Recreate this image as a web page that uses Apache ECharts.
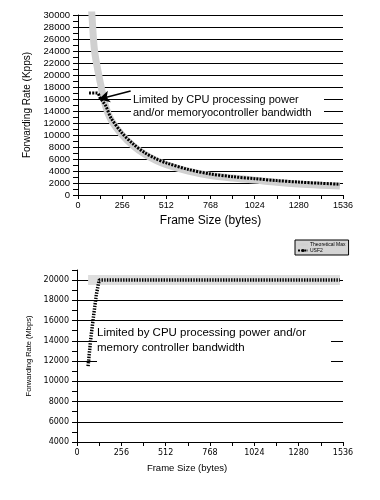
<!DOCTYPE html>
<html>
<head>
<meta charset="utf-8">
<script src="https://cdn.jsdelivr.net/npm/echarts@6/dist/echarts.min.js"></script>
<style>
html,body{margin:0;padding:0;background:#fff;}
#chart{width:380px;height:500px;}
</style>
</head>
<body>
<div id="chart"></div>
<script>
// ---- Data ----
const xTitle = 'Frame Size (bytes)';
const topYTitle = 'Forwarding Rate (Kpps)';
const bottomYTitle = 'Forwarding Rate (Mbps)';
const seriesNames = ['Theoretical Max', 'USF2'];
const topNote = 'Limited by CPU processing power\nand/or memoryocontroller bandwidth';
const bottomNote = 'Limited by CPU processing power and/or\nmemory controller bandwidth';

// Top chart: packets per second (Kpps)
const topTheoSizes = [64, 80, 96, 128, 160, 192, 256, 320, 384, 448, 512, 640, 768, 896, 1024, 1152, 1280, 1408, 1518];
const topTheoKpps  = [36000, 30300, 24000, 18900, 14800, 12500, 10000, 8200, 6850, 5800, 5050, 3980, 3250, 2820, 2480, 2120, 1840, 1640, 1500];
const topUsfSizes  = [64, 112, 128, 160, 192, 256, 320, 384, 448, 512, 640, 768, 896, 1024, 1152, 1280, 1408, 1518];
const topUsfKpps   = [17000, 17000, 16200, 14900, 12800, 10300, 8500, 7100, 6100, 5350, 4250, 3500, 3050, 2720, 2400, 2150, 1950, 1800];

// Bottom chart: throughput (Mbps)
const botTheoSizes = [64, 128, 256, 512, 768, 1024, 1280, 1518];
const botTheoMbps  = [20000, 20000, 20000, 20000, 20000, 20000, 20000, 20000];
const botUsfSizes  = [64, 80, 96, 112, 128, 256, 512, 768, 1024, 1280, 1518];
const botUsfMbps   = [11500, 14300, 16500, 18600, 20000, 20000, 20000, 20000, 20000, 20000, 20000];

// Annotation arrow (data coordinates on top chart)
const arrowFrom = [305, 17333];
const arrowTo   = [120, 15950];

const zip = (a, b) => a.map((v, i) => [v, b[i]]);
const FONT = 'Liberation Sans';

function xAxisCfg(grid, labelSize, labelFont, nameSize, nameGap, namePad) {
  return {
    type: 'value', gridIndex: grid, min: 0, max: 1536, interval: 128,
    axisLine: { show: true, onZero: false, lineStyle: { color: '#000', width: 1 } },
    axisTick: { show: true, length: 4, lineStyle: { color: '#000' } },
    axisLabel: { formatter: v => (v % 256 === 0 ? String(v) : ''), fontSize: labelSize, fontFamily: labelFont, color: '#000', margin: grid === 0 ? 6 : 7 },
    splitLine: { show: false },
    name: xTitle, nameLocation: 'middle', nameGap: nameGap,
    nameTextStyle: { fontSize: nameSize, fontFamily: FONT, color: '#000', padding: namePad }
  };
}

function yAxisCfg(grid, min, max, labelMax, labelSize, labelFont, name, nameSize, nameGap) {
  return {
    type: 'value', gridIndex: grid, min: min, max: max, interval: 1000,
    axisLine: { show: true, onZero: false, lineStyle: { color: '#000', width: 1 } },
    axisTick: { show: true, length: 5, lineStyle: { color: '#000' } },
    axisLabel: { formatter: v => (v % 2000 === 0 && v <= labelMax ? String(v) : ''), fontSize: labelSize, fontFamily: labelFont, color: '#000', margin: 8 },
    splitLine: { show: true, lineStyle: { color: ['#000', 'rgba(0,0,0,0)'], width: 1 } },
    name: name, nameLocation: 'middle', nameGap: nameGap, nameRotate: 90,
    nameTextStyle: { fontSize: nameSize, fontFamily: FONT, color: '#000' }
  };
}

const chart = echarts.init(document.getElementById('chart'), null, { renderer: 'canvas' });
chart.setOption({
  animation: false,
  backgroundColor: '#fff',
  grid: [
    { left: 78, right: 37, top: 15, height: 180 },
    { left: 77, right: 37, top: 270, height: 172 }
  ],
  legend: {
    data: seriesNames,
    left: 295, top: 240,
    orient: 'vertical',
    backgroundColor: '#d4d4d4', borderColor: '#000', borderWidth: 1,
    padding: [2, 3, 2, 2], itemGap: 1, itemWidth: 10, itemHeight: 4,
    textStyle: { fontSize: 5, fontFamily: FONT, color: '#000', padding: [0, 0, 0, -3] }
  },
  xAxis: [
    xAxisCfg(0, 9, FONT, 12, 20, [0, 0, 0, 0]),
    xAxisCfg(1, 8, 'DejaVu Sans', 9.5, 21, [0, 46, 0, 0])
  ],
  yAxis: [
    yAxisCfg(0, 0, 30000, 30000, 9.5, FONT, topYTitle, 10, 43),
    yAxisCfg(1, 4000, 21000, 20000, 8, 'DejaVu Sans', bottomYTitle, 7.5, 40)
  ],
  graphic: [
    { type: 'rect', z: 1, shape: { x: 131, y: 92, width: 193, height: 26 }, style: { fill: '#fff' } },
    { type: 'text', z: 1, x: 133, y: 93, style: { text: topNote, font: '11px "Liberation Sans"', lineHeight: 13, fill: '#000' } },
    { type: 'rect', z: 1, shape: { x: 97, y: 322, width: 234, height: 44 }, style: { fill: '#fff' } },
    { type: 'text', z: 1, x: 97, y: 325, style: { text: bottomNote, font: '11.5px "Liberation Sans"', lineHeight: 15, fill: '#000' } }
  ],
  series: [
    {
      name: seriesNames[0], type: 'line', xAxisIndex: 0, yAxisIndex: 0,
      data: zip(topTheoSizes, topTheoKpps), smooth: 0.3, symbol: 'none', clip: true,
      lineStyle: { color: '#d0d0d0', width: 7, cap: 'butt' }, itemStyle: { color: '#d0d0d0' }, z: 2
    },
    {
      name: seriesNames[1], type: 'line', xAxisIndex: 0, yAxisIndex: 0,
      data: zip(topUsfSizes, topUsfKpps), smooth: 0.3, symbol: 'none', clip: true,
      lineStyle: { color: '#000', width: 3, type: [2, 1.2], cap: 'butt' }, itemStyle: { color: '#000' }, z: 3,
      markLine: {
        silent: true, symbol: ['none', 'arrow'], symbolSize: [9, 11],
        label: { show: false },
        lineStyle: { color: '#000', width: 1.5, type: 'solid' },
        data: [[{ coord: arrowFrom }, { coord: arrowTo }]]
      }
    },
    {
      name: seriesNames[0], type: 'line', xAxisIndex: 1, yAxisIndex: 1,
      data: zip(botTheoSizes, botTheoMbps), symbol: 'none', clip: true,
      lineStyle: { color: '#dedede', width: 10, cap: 'butt' }, itemStyle: { color: '#dedede' }, z: 2
    },
    {
      name: seriesNames[1], type: 'line', xAxisIndex: 1, yAxisIndex: 1,
      data: zip(botUsfSizes, botUsfMbps), symbol: 'none', clip: true,
      lineStyle: { color: '#000', width: 3.5, type: [1.4, 1.3], cap: 'butt' }, itemStyle: { color: '#000' }, z: 3
    }
  ]
});
</script>
</body>
</html>
